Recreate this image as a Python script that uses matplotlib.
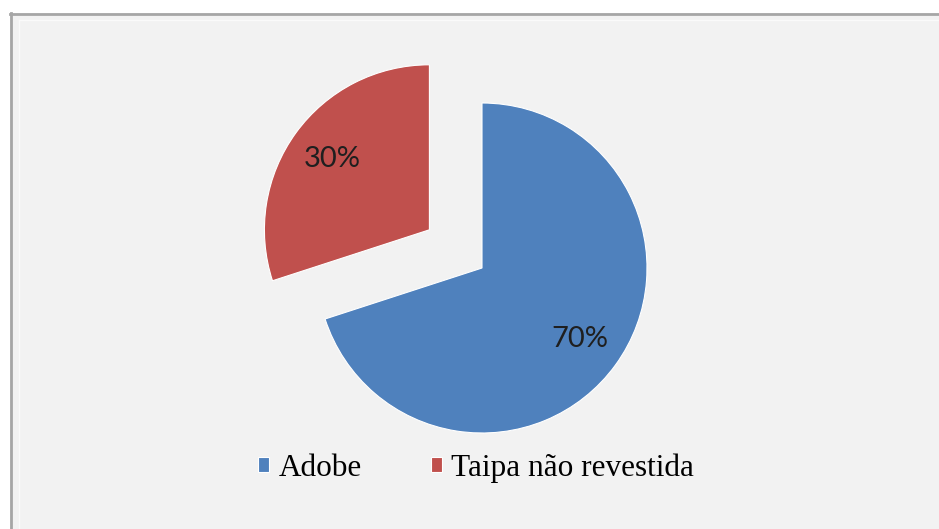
import matplotlib.pyplot as plt
from matplotlib.patches import Rectangle

labels = ["Adobe", "Taipa não revestida"]
shares = [70, 30]
colors = ["#4F81BD", "#C0504D"]

W, H = 939, 529
radius = 165
# pull the small slice out by 65 px (explode is in data units here)
explode = [0, 65]

fig = plt.figure(figsize=(W / 100, H / 100), dpi=100)
fig.patch.set_facecolor("white")

ax = fig.add_axes([0, 0, 1, 1])
ax.patch.set_alpha(0)

# chart area panel with its grey frame on top and left (pixel coordinates)
ax.add_patch(Rectangle((10, 0), W, H - 13, facecolor="#F2F2F2", edgecolor="none", zorder=-2))
ax.plot([10, W], [H - 13.5, H - 13.5], color="#A6A6A6", lw=2, zorder=-1)
ax.plot([10.5, 10.5], [0, H - 13], color="#A6A6A6", lw=2, zorder=-1)
ax.plot([19, W], [H - 20, H - 20], color="#FAFAFA", lw=1, zorder=-1)
ax.plot([19, 19], [0, H - 20], color="#FAFAFA", lw=1, zorder=-1)

wedges, texts, autotexts = ax.pie(
    shares, colors=colors, explode=explode, startangle=90, counterclock=False,
    center=(482, H - 268), radius=radius, autopct="%d%%", pctdistance=0.73,
    wedgeprops=dict(edgecolor="white", linewidth=0.8),
    textprops=dict(fontsize=21, color="#1F1F1F", family="Lato"))
ax.set_xlim(0, W)
ax.set_ylim(0, H)
ax.set_aspect("auto")
ax.axis("off")

ax.legend(wedges, labels, loc="center", bbox_to_anchor=(476 / W, 1 - 468 / H),
          ncol=2, frameon=False, handlelength=0.35, handleheight=0.35,
          handletextpad=0.3, columnspacing=2.2,
          prop=dict(family="Liberation Serif", size=22.5))

fig.savefig("out.png", dpi=100)
